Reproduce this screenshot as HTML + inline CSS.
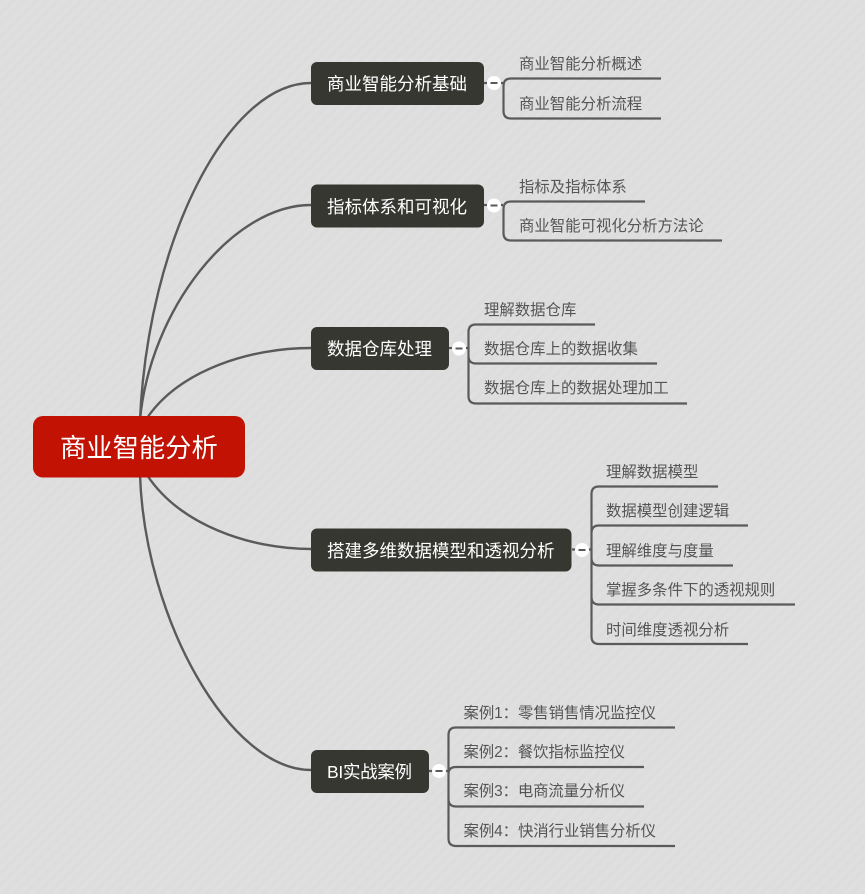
<!DOCTYPE html>
<html><head><meta charset="utf-8"><style>
html,body{margin:0;padding:0}
body{width:865px;height:894px;overflow:hidden;background:#dedede}
svg{display:block}
text{font-family:"Liberation Sans","Noto Sans CJK SC",sans-serif}
.m{font-size:17.5px;fill:#fff}
.s{font-size:15.4px;fill:#555}
.l{fill:none;stroke:#5a5a5a;stroke-width:2.2}
.c{fill:none;stroke:#5a5a5a;stroke-width:2.4}
.b{fill:#373732}
</style></head><body>
<svg width="865" height="894" viewBox="0 0 865 894" xmlns="http://www.w3.org/2000/svg">
<defs><pattern id="p" width="8" height="8" patternUnits="userSpaceOnUse" patternTransform="rotate(45)"><rect width="8" height="8" fill="#dfdfdf"/><rect width="4" height="8" fill="#dddddd"/></pattern></defs>
<rect width="865" height="894" fill="url(#p)"/>

<path class="c" d="M140,420C148,240 228,83 311,83"/>
<path class="c" d="M140,420C150,310 232,205 311,205"/>
<path class="c" d="M147,418C180,370 250,348 311,348"/>
<path class="c" d="M147,475C180,525 250,549 311,549"/>
<path class="c" d="M140,475C145,620 230,770 311,770"/>

<!-- branch 1 -->
<path class="l" d="M484,83H503M661,78.500H511Q503.500,78.500 503.500,86V111Q503.500,118.500 511,118.500H661"/>
<rect class="b" x="311" y="62" width="173" height="43" rx="6"/>
<circle cx="494" cy="83" r="7" fill="#fff"/><path d="M490.500,83H497.500" stroke="#5a5a5a" stroke-width="2"/>
<text class="m" x="327" y="90">商业智能分析基础</text>
<text class="s" x="519" y="69">商业智能分析概述</text>
<text class="s" x="519" y="109">商业智能分析流程</text>

<!-- branch 2 -->
<path class="l" d="M484,205H503M645,201.500H511Q503.500,201.500 503.500,209V233Q503.500,240.500 511,240.500H722"/>
<rect class="b" x="311" y="184.500" width="173" height="43" rx="6"/>
<circle cx="494" cy="205.500" r="7" fill="#fff"/><path d="M490.500,205.500H497.500" stroke="#5a5a5a" stroke-width="2"/>
<text class="m" x="327" y="213">指标体系和可视化</text>
<text class="s" x="519" y="192">指标及指标体系</text>
<text class="s" x="519" y="231">商业智能可视化分析方法论</text>

<!-- branch 3 -->
<path class="l" d="M449,348H468M595,324.500H476Q468.500,324.500 468.500,332V396Q468.500,403.500 476,403.500H687M468.500,356Q468.500,363.500 476,363.500H657"/>
<rect class="b" x="311" y="327" width="138" height="43" rx="6"/>
<circle cx="459" cy="348.500" r="7" fill="#fff"/><path d="M455.500,348.500H462.500" stroke="#5a5a5a" stroke-width="2"/>
<text class="m" x="327" y="355">数据仓库处理</text>
<text class="s" x="484" y="315">理解数据仓库</text>
<text class="s" x="484" y="354">数据仓库上的数据收集</text>
<text class="s" x="484" y="393">数据仓库上的数据处理加工</text>

<!-- branch 4 -->
<path class="l" d="M572,549.500H591M718,486.500H599Q591.500,486.500 591.500,494V636.500Q591.500,644 599,644H748M591.500,533Q591.500,525.500 599,525.500H748M591.500,558Q591.500,565.500 599,565.500H733M591.500,597Q591.500,604.500 599,604.500H795"/>
<rect class="b" x="311" y="528.500" width="260.500" height="43" rx="6"/>
<circle cx="582" cy="550" r="7" fill="#fff"/><path d="M578.500,550H585.500" stroke="#5a5a5a" stroke-width="2"/>
<text class="m" x="327" y="557">搭建多维数据模型和透视分析</text>
<text class="s" x="606" y="477">理解数据模型</text>
<text class="s" x="606" y="516">数据模型创建逻辑</text>
<text class="s" x="606" y="556">理解维度与度量</text>
<text class="s" x="606" y="595">掌握多条件下的透视规则</text>
<text class="s" x="606" y="635">时间维度透视分析</text>

<!-- branch 5 -->
<path class="l" d="M429,771H448M675,727.500H456Q448.500,727.500 448.500,735V838.500Q448.500,846 456,846H675M448.500,774Q448.500,767 456,767H644M448.500,799Q448.500,806.500 456,806.500H644"/>
<rect class="b" x="311" y="750" width="118" height="43" rx="6"/>
<circle cx="439" cy="771" r="7" fill="#fff"/><path d="M435.500,771H442.500" stroke="#5a5a5a" stroke-width="2"/>
<text class="m" x="327" y="778" textLength="85">BI实战案例</text>
<text class="s" x="463.500" y="718" textLength="192.500">案例1：零售销售情况监控仪</text>
<text class="s" x="463.500" y="757" textLength="161.500">案例2：餐饮指标监控仪</text>
<text class="s" x="463.500" y="796" textLength="161.500">案例3：电商流量分析仪</text>
<text class="s" x="463.500" y="836" textLength="192.500">案例4：快消行业销售分析仪</text>

<!-- root -->
<rect x="33" y="416" width="212" height="61.500" rx="10" fill="#c21203"/>
<text x="60" y="457" font-size="26.300" fill="#fff">商业智能分析</text>
</svg>
</body></html>
